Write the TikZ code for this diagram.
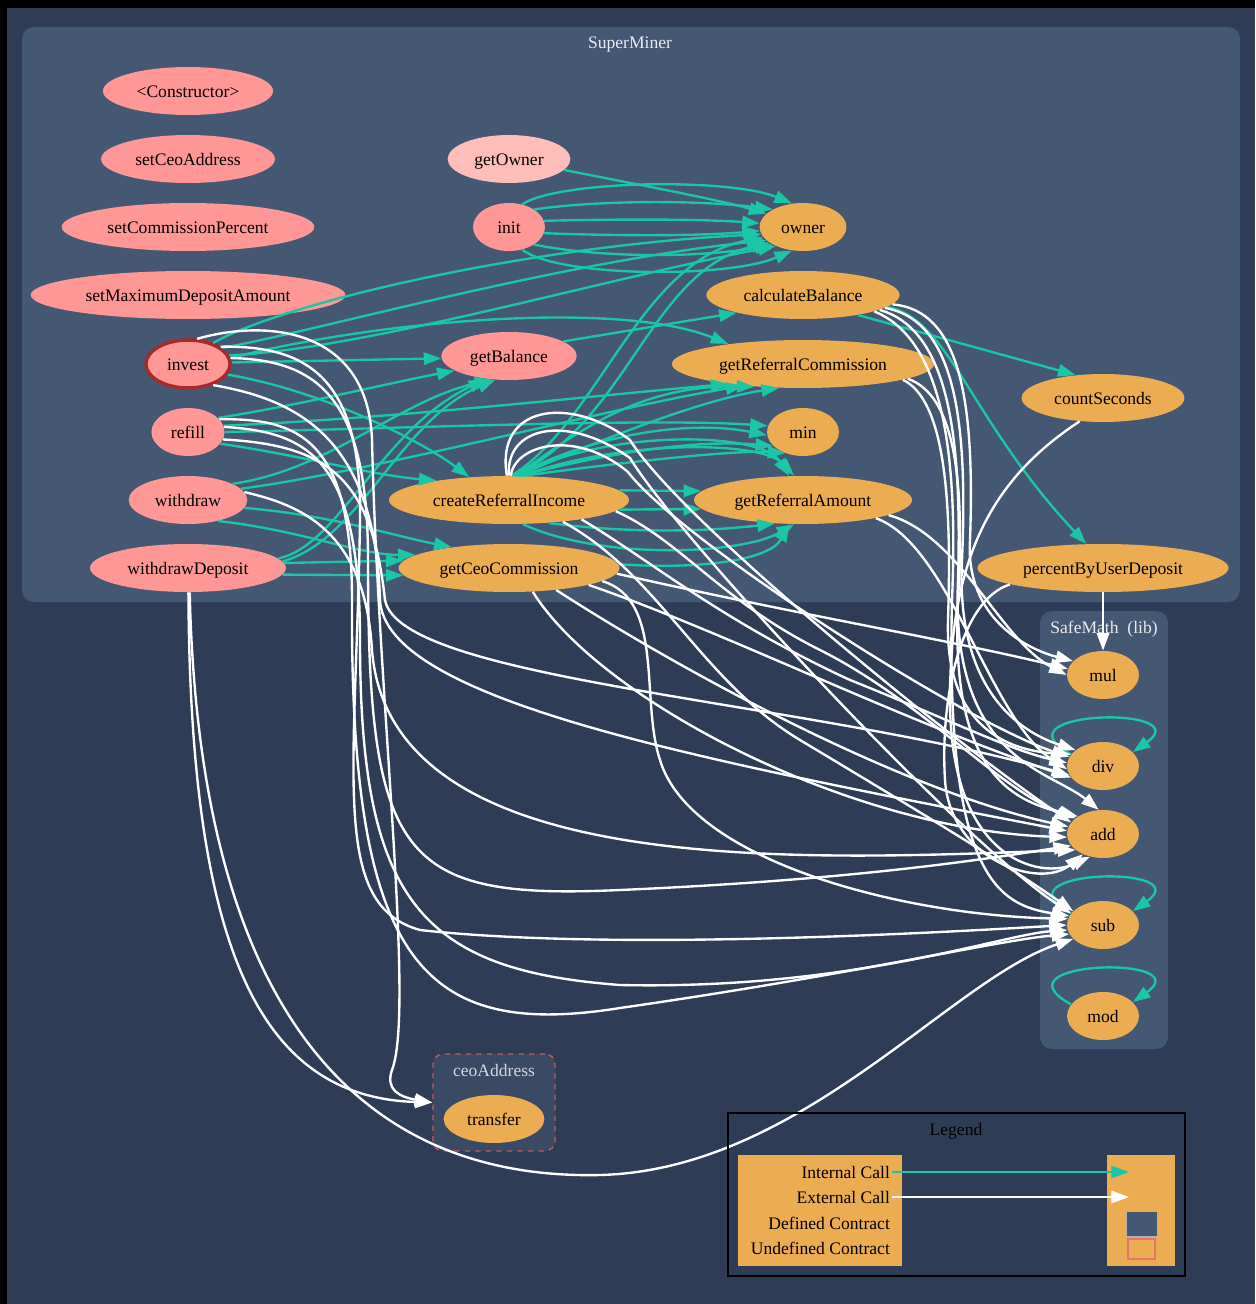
\documentclass[tikz,border=0pt]{standalone}
\usepackage{fontspec}
\setmainfont{Liberation Serif}
\usetikzlibrary{shapes.geometric,arrows.meta}
\definecolor{bgblue}{HTML}{2E3D55}
\definecolor{clblue}{HTML}{445773}
\definecolor{pubred}{HTML}{FF9797}
\definecolor{viewred}{HTML}{FFBDB9}
\definecolor{intorange}{HTML}{EBAC52}
\definecolor{callteal}{HTML}{1BC6A6}
\definecolor{payred}{HTML}{A52A2A}
\definecolor{extblue}{HTML}{3A4964}
\definecolor{extdash}{HTML}{C85A5A}
\definecolor{undefred}{HTML}{E8736C}
\begin{document}
\begin{tikzpicture}[x=0.02cm,y=-0.02cm,
  pub/.style={ellipse,fill=pubred,minimum width=1.44cm,minimum height=0.96cm,inner xsep=5pt,inner ysep=1pt,text height=0.86em,text depth=0.14em},
  intfn/.style={pub,fill=intorange},
  cllabel/.style={text=white!88!clblue,text height=0.86em,text depth=0.14em},
  icall/.style={draw=callteal,line width=1.35pt,-{Triangle[length=10pt,width=7pt]}},
  ecall/.style={draw=white,line width=1.35pt,-{Triangle[length=10pt,width=7pt]}}]
\useasboundingbox (0,0) rectangle (1255,1304);
\fill[black] (0,0) rectangle (1255,1304);
\fill[bgblue] (7,8) rectangle (1255,1304);
\fill[clblue,rounded corners=0.24cm] (22,27) rectangle (1240,602);
\node[cllabel] (superMiner) at (630,42) {SuperMiner};
\fill[clblue,rounded corners=0.24cm] (1040,611) rectangle (1168,1049);
\node[cllabel] (safeMath) at (1104,627) {SafeMath\ \ (lib)};
\node[draw=extdash,dashed,line width=0.8pt,fill=extblue,rounded corners=0.2cm,minimum width=2.44cm,minimum height=1.94cm] (ceobox) at (494,1102.5) {};
\node[cllabel,text=white!78!extblue] (ceoAddress) at (494,1070) {ceoAddress};

\node[pub] (ctor) at (188,91) {<Constructor>};
\node[pub] (setCeoAddress) at (188,159) {setCeoAddress};
\node[pub] (setCommissionPercent) at (188,227) {setCommissionPercent};
\node[pub] (setMaximumDepositAmount) at (188,295) {setMaximumDepositAmount};
\node[pub,draw=payred,line width=2pt] (invest) at (188,364) {invest};
\node[pub] (refill) at (188,432) {refill};
\node[pub] (withdraw) at (188,500) {withdraw};
\node[pub] (withdrawDeposit) at (188,568) {withdrawDeposit};
\node[pub,fill=viewred] (getOwner) at (509,159) {getOwner};
\node[pub] (init) at (509,227) {init};
\node[pub] (getBalance) at (509,356) {getBalance};
\node[intfn] (createReferralIncome) at (509,500) {createReferralIncome};
\node[intfn] (getCeoCommission) at (509,568) {getCeoCommission};
\node[intfn] (owner) at (803,227) {owner};
\node[intfn] (calculateBalance) at (803,295) {calculateBalance};
\node[intfn] (getReferralCommission) at (803,364) {getReferralCommission};
\node[intfn] (min) at (803,432) {min};
\node[intfn] (getReferralAmount) at (803,500) {getReferralAmount};
\node[intfn] (countSeconds) at (1103,398) {countSeconds};
\node[intfn] (percentByUserDeposit) at (1103,568) {percentByUserDeposit};
\node[intfn] (mul) at (1103,675) {mul};
\node[intfn] (div) at (1103,766) {div};
\node[intfn] (add) at (1103,834) {add};
\node[intfn] (sub) at (1103,925) {sub};
\node[intfn] (mod) at (1103,1016) {mod};
\node[intfn] (transfer) at (494,1119) {transfer};

\draw[icall] (getOwner) .. controls (640,185) and (720,200) .. (owner.160);
\draw[icall] (init.60) .. controls (560,180) and (730,178) .. (owner.115);
\draw[icall] (init.35) .. controls (600,200) and (700,200) .. (owner.150);
\draw[icall] (init.10) .. controls (620,219) and (700,219) .. (owner.175);
\draw[icall] (init.-10) .. controls (620,236) and (700,236) .. (owner.185);
\draw[icall] (init.-35) .. controls (600,258) and (700,258) .. (owner.210);
\draw[icall] (init.-60) .. controls (560,278) and (730,278) .. (owner.245);
\draw[icall] (invest.40) .. controls (290,300) and (540,245) .. (owner.190);
\draw[icall] (invest.25) .. controls (320,330) and (560,262) .. (owner.200);
\draw[icall] (invest.12) .. controls (360,350) and (600,280) .. (owner.215);
\draw[icall] (invest.8) .. controls (380,320) and (620,300) .. (getReferralCommission.165);
\draw[icall] (invest.2) -- (getBalance.182);
\draw[icall] (invest.-15) .. controls (320,390) and (420,440) .. (createReferralIncome.150);
\draw[icall] (getBalance.15) -- (calculateBalance.195);
\draw[icall] (refill.25) .. controls (300,405) and (380,385) .. (getBalance.195);
\draw[icall] (refill.10) .. controls (400,418) and (600,395) .. (getReferralCommission.195);
\draw[icall] (refill.0) .. controls (420,428) and (650,418) .. (min.170);
\draw[icall] (refill.-20) .. controls (300,455) and (370,475) .. (createReferralIncome.165);
\draw[icall] (withdraw.20) .. controls (330,470) and (400,400) .. (getBalance.235);
\draw[icall] (withdraw.12) .. controls (380,470) and (600,410) .. (getReferralCommission.200);
\draw[icall] (withdraw.-8) .. controls (330,515) and (390,535) .. (getCeoCommission.160);
\draw[icall] (withdraw.-35) .. controls (300,530) and (360,555) .. (getCeoCommission.172);
\draw[icall] (withdrawDeposit.6) .. controls (340,545) and (380,430) .. (getBalance.225);
\draw[icall] (withdrawDeposit.4) .. controls (360,540) and (400,420) .. (getBalance.240);
\draw[icall] (withdrawDeposit.3) -- (getCeoCommission.176);
\draw[icall] (withdrawDeposit.-4) -- (getCeoCommission.184);
\draw[icall] (createReferralIncome.84) .. controls (600,420) and (640,260) .. (owner.195);
\draw[icall] (createReferralIncome.78) .. controls (630,420) and (650,270) .. (owner.205);
\draw[icall] (createReferralIncome.75) .. controls (580,430) and (640,385) .. (getReferralCommission.205);
\draw[icall] (createReferralIncome.70) .. controls (600,440) and (700,400) .. (getReferralCommission.225);
\draw[icall] (createReferralIncome.72) .. controls (580,440) and (680,418) .. (min.185);
\draw[icall] (createReferralIncome.65) .. controls (620,450) and (700,440) .. (min.205);
\draw[icall] (createReferralIncome.60) .. controls (640,460) and (740,450) .. (min.230);
\draw[icall] (createReferralIncome.68) .. controls (600,430) and (760,430) .. (getReferralAmount.120);
\draw[icall] (createReferralIncome.62) .. controls (620,440) and (760,440) .. (getReferralAmount.110);
\draw[icall] (createReferralIncome.5) -- (getReferralAmount.175);
\draw[icall] (createReferralIncome.-5) -- (getReferralAmount.185);
\draw[icall] (createReferralIncome.-30) .. controls (640,535) and (720,530) .. (getReferralAmount.220);
\draw[icall] (createReferralIncome.-60) .. controls (600,560) and (740,555) .. (getReferralAmount.250);
\draw[icall] (getCeoCommission.2) .. controls (700,570) and (770,560) .. (getReferralAmount.240);
\draw[icall] (calculateBalance.-20) -- (countSeconds.140);
\draw[icall] (calculateBalance.-8) .. controls (950,320) and (970,420) .. (percentByUserDeposit.125);
\draw[icall] (div.160) .. controls (990,710) and (1200,705) .. (div.25);
\draw[icall] (sub.160) .. controls (990,869) and (1200,864) .. (sub.25);
\draw[icall] (mod.160) .. controls (990,960) and (1200,955) .. (mod.25);

\draw[ecall] (invest.70) .. controls (270,318) and (368,330) .. (372,440) .. controls (378,700) and (415,1010) .. (392,1070) .. controls (385,1090) and (400,1097) .. (ceobox.west);
\draw[ecall] (invest.28) .. controls (310,345) and (362,380) .. (360,520) .. controls (356,780) and (330,905) .. (420,930) .. controls (600,950) and (900,935) .. (sub.180);
\draw[ecall] (invest.8) .. controls (320,360) and (368,400) .. (368,560) .. controls (368,860) and (400,900) .. (620,890) .. controls (850,880) and (980,860) .. (add.200);
\draw[ecall] (invest.-40) .. controls (300,400) and (375,440) .. (380,600) .. controls (385,700) and (700,760) .. (add.175);
\draw[ecall] (refill.22) .. controls (300,418) and (352,440) .. (352,600) .. controls (350,960) and (420,1040) .. (620,1008) .. controls (850,975) and (1000,940) .. (sub.195);
\draw[ecall] (refill.8) .. controls (310,432) and (360,460) .. (360,640) .. controls (360,900) and (420,970) .. (620,985) .. controls (850,990) and (1000,935) .. (sub.188);
\draw[ecall] (refill.-12) .. controls (330,445) and (372,480) .. (385,600) .. controls (400,680) and (800,700) .. (div.195);
\draw[ecall] (withdraw.8) .. controls (300,505) and (365,530) .. (372,650) .. controls (390,880) and (800,860) .. (add.210);
\draw[ecall] (withdrawDeposit.-89) .. controls (190,950) and (260,1097) .. (ceobox.west);
\draw[ecall] (withdrawDeposit.-86) .. controls (200,1040) and (380,1180) .. (600,1175) .. controls (800,1170) and (950,980) .. (sub.205);
\draw[ecall] (createReferralIncome.95) .. controls (495,405) and (570,395) .. (630,440) .. controls (680,520) and (950,740) .. (add.160);
\draw[ecall] (createReferralIncome.90) .. controls (505,428) and (565,412) .. (630,458) .. controls (680,540) and (960,840) .. (sub.160);
\draw[ecall] (createReferralIncome.86) .. controls (515,445) and (575,428) .. (628,472) .. controls (680,540) and (960,720) .. (div.165);
\draw[ecall] (createReferralIncome.-6) .. controls (680,540) and (720,600) .. (820,650) .. controls (920,700) and (1000,790) .. (add.150);
\draw[ecall] (createReferralIncome.-15) .. controls (650,560) and (720,620) .. (850,680) .. controls (950,720) and (1010,750) .. (div.175);
\draw[ecall] (createReferralIncome.-22) .. controls (660,575) and (700,680) .. (800,740) .. controls (900,800) and (1000,860) .. (sub.155);
\draw[ecall] (getCeoCommission.-3) .. controls (800,615) and (950,640) .. (mul.170);
\draw[ecall] (getCeoCommission.-12) .. controls (720,630) and (900,720) .. (div.200);
\draw[ecall] (getCeoCommission.-25) .. controls (680,670) and (900,790) .. (add.168);
\draw[ecall] (getCeoCommission.-45) .. controls (600,700) and (850,830) .. (add.185);
\draw[ecall] (getCeoCommission.-8) .. controls (665,600) and (640,700) .. (660,760) .. controls (690,860) and (900,915) .. (sub.170);
\draw[ecall] (getReferralAmount.-10) .. controls (960,535) and (1000,640) .. (mul.180);
\draw[ecall] (getReferralAmount.-14) .. controls (950,545) and (990,720) .. (div.185);
\draw[ecall] (getReferralCommission.-8) .. controls (955,395) and (965,480) .. (958,600) .. controls (950,770) and (1010,800) .. (add.145);
\draw[ecall] (getReferralCommission.-9) .. controls (945,400) and (952,500) .. (948,620) .. controls (945,720) and (1000,750) .. (div.160);
\draw[ecall] (calculateBalance.-6) .. controls (960,310) and (975,400) .. (970,540) .. controls (965,620) and (1030,650) .. (mul.155);
\draw[ecall] (calculateBalance.-9) .. controls (955,320) and (968,420) .. (962,560) .. controls (955,700) and (1030,735) .. (div.150);
\draw[ecall] (calculateBalance.-11) .. controls (950,330) and (962,440) .. (958,580) .. controls (950,760) and (1050,770) .. (add.100);
\draw[ecall] (calculateBalance.-13) .. controls (945,340) and (958,460) .. (952,600) .. controls (945,880) and (1000,905) .. (sub.165);
\draw[ecall] (countSeconds.-135) .. controls (990,480) and (950,560) .. (950,700) .. controls (950,860) and (1040,880) .. (add.240);
\draw[ecall] (percentByUserDeposit) -- (mul);
\draw[ecall] (percentByUserDeposit.190) .. controls (960,600) and (940,700) .. (945,780) .. controls (950,860) and (1040,890) .. (add.225);

\draw[black,line width=1pt] (728,1113) rectangle (1185,1276);
\node[cllabel,text=black] (legend) at (956,1129) {Legend};
\fill[intorange] (738,1155) rectangle (902,1266);
\fill[intorange] (1107,1155) rectangle (1175,1266);
\node[anchor=east,inner sep=1pt] (lgint) at (892,1172) {Internal Call};
\node[anchor=east,inner sep=1pt] (lgext) at (892,1197) {External Call};
\node[anchor=east,inner sep=1pt] (lgdef) at (892,1223) {Defined Contract};
\node[anchor=east,inner sep=1pt] (lgund) at (892,1248) {Undefined Contract};
\coordinate (lgintend) at (1129,1172);
\coordinate (lgextend) at (1129,1197);
\draw[icall] (lgint.east) -- (lgintend);
\draw[ecall] (lgext.east) -- (lgextend);
\filldraw[fill=clblue,draw=gray!60,line width=0.4pt] (1126,1211) rectangle (1157,1236);
\draw[undefred,line width=0.8pt] (1128,1239) rectangle (1155,1259);
\end{tikzpicture}
\end{document}
